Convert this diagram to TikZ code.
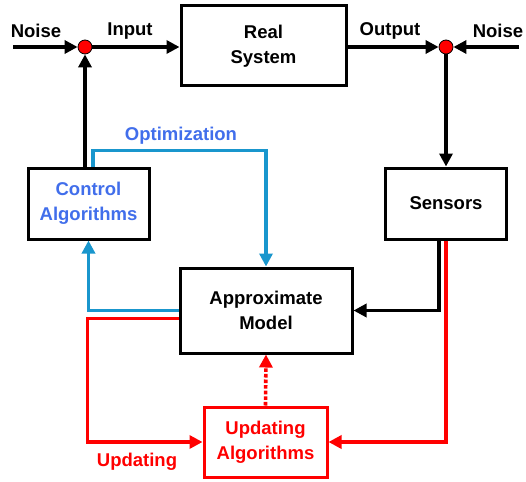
\documentclass[tikz,border=0pt]{standalone}
\usepackage{fontspec}
\setmainfont{Liberation Sans}
\usetikzlibrary{arrows.meta}
\definecolor{optline}{RGB}{25,150,205}
\definecolor{opttext}{RGB}{65,110,235}
\definecolor{updred}{RGB}{255,0,0}

\begin{document}
\begin{tikzpicture}[x=1pt,y=-1pt,line width=3.6pt,>={Triangle[length=13pt,width=13pt]},
  txt/.style={font=\bfseries\fontsize{18.5}{25}\selectfont},
  box/.style={txt,draw,line width=3pt,fill=white,align=center,inner sep=0pt},
  sumpt/.style={circle,draw,line width=0.8pt,fill=updred,minimum size=14pt,inner sep=0pt},
  optln/.style={optline,line width=3.6pt},
  updln/.style={updred,line width=3.6pt}]
  \useasboundingbox (0,0) rectangle (526,481);

  % blocks
  \node[box,minimum width=165pt,minimum height=80pt] (real) at (263.5,46) {Real\\System};
  \node[box,minimum width=121pt,minimum height=71pt] (sensors) at (446,203.5) {Sensors};
  \node[box,minimum width=121pt,minimum height=71pt,text=opttext] (ctrl) at (88.5,203.5) {Control\\Algorithms};
  \node[box,minimum width=172pt,minimum height=85pt] (approx) at (266,310.5) {Approximate\\Model};
  \node[box,draw=updred,text=updred,minimum width=123pt,minimum height=70pt] (upd) at (265.5,442) {Updating\\Algorithms};

  % summing points
  \node[sumpt] (sumL) at (85,47) {};
  \node[sumpt] (sumR) at (446,47) {};
  \coordinate (noiseL) at (13,47);
  \coordinate (noiseR) at (519,47);

  % labels
  \node[txt] (lnoiseL) at (36,31) {Noise};
  \node[txt] (linput) at (130,31) {Input};
  \node[txt] (loutput) at (390,31) {Output};
  \node[txt] (lnoiseR) at (498,31) {Noise};
  \node[txt,text=opttext] (lopt) at (181,136) {Optimization};
  \node[txt,text=updred] (lupd) at (137,462) {Updating};

  % plant loop
  \draw[->] (noiseL) -- (sumL);
  \draw[->] (sumL) -- (sumL -| real.west);
  \draw[->] (sumR -| real.east) -- (sumR);
  \draw[->] (noiseR) -- (sumR);
  \draw[->] (sumR) -- (sensors.north);
  \draw[->] (ctrl.north -| sumL) -- (sumL);
  \draw[->] ([xshift=-7pt]sensors.south) |- (approx.east);

  % optimization
  \draw[optln,->] ([xshift=4.5pt]ctrl.north) -- ++(0,-16) -| (approx.north);
  \draw[optln,->] (approx.west) -| (ctrl.south);

  % updating
  \draw[updln,->] ([yshift=-8pt]approx.west) -- ++(-91,0) |- (upd.west);
  \draw[updln,->] (sensors.south) |- (upd.east);
  \draw[updln,->,dotted] (upd.north) -- (approx.south);
\end{tikzpicture}
\end{document}
